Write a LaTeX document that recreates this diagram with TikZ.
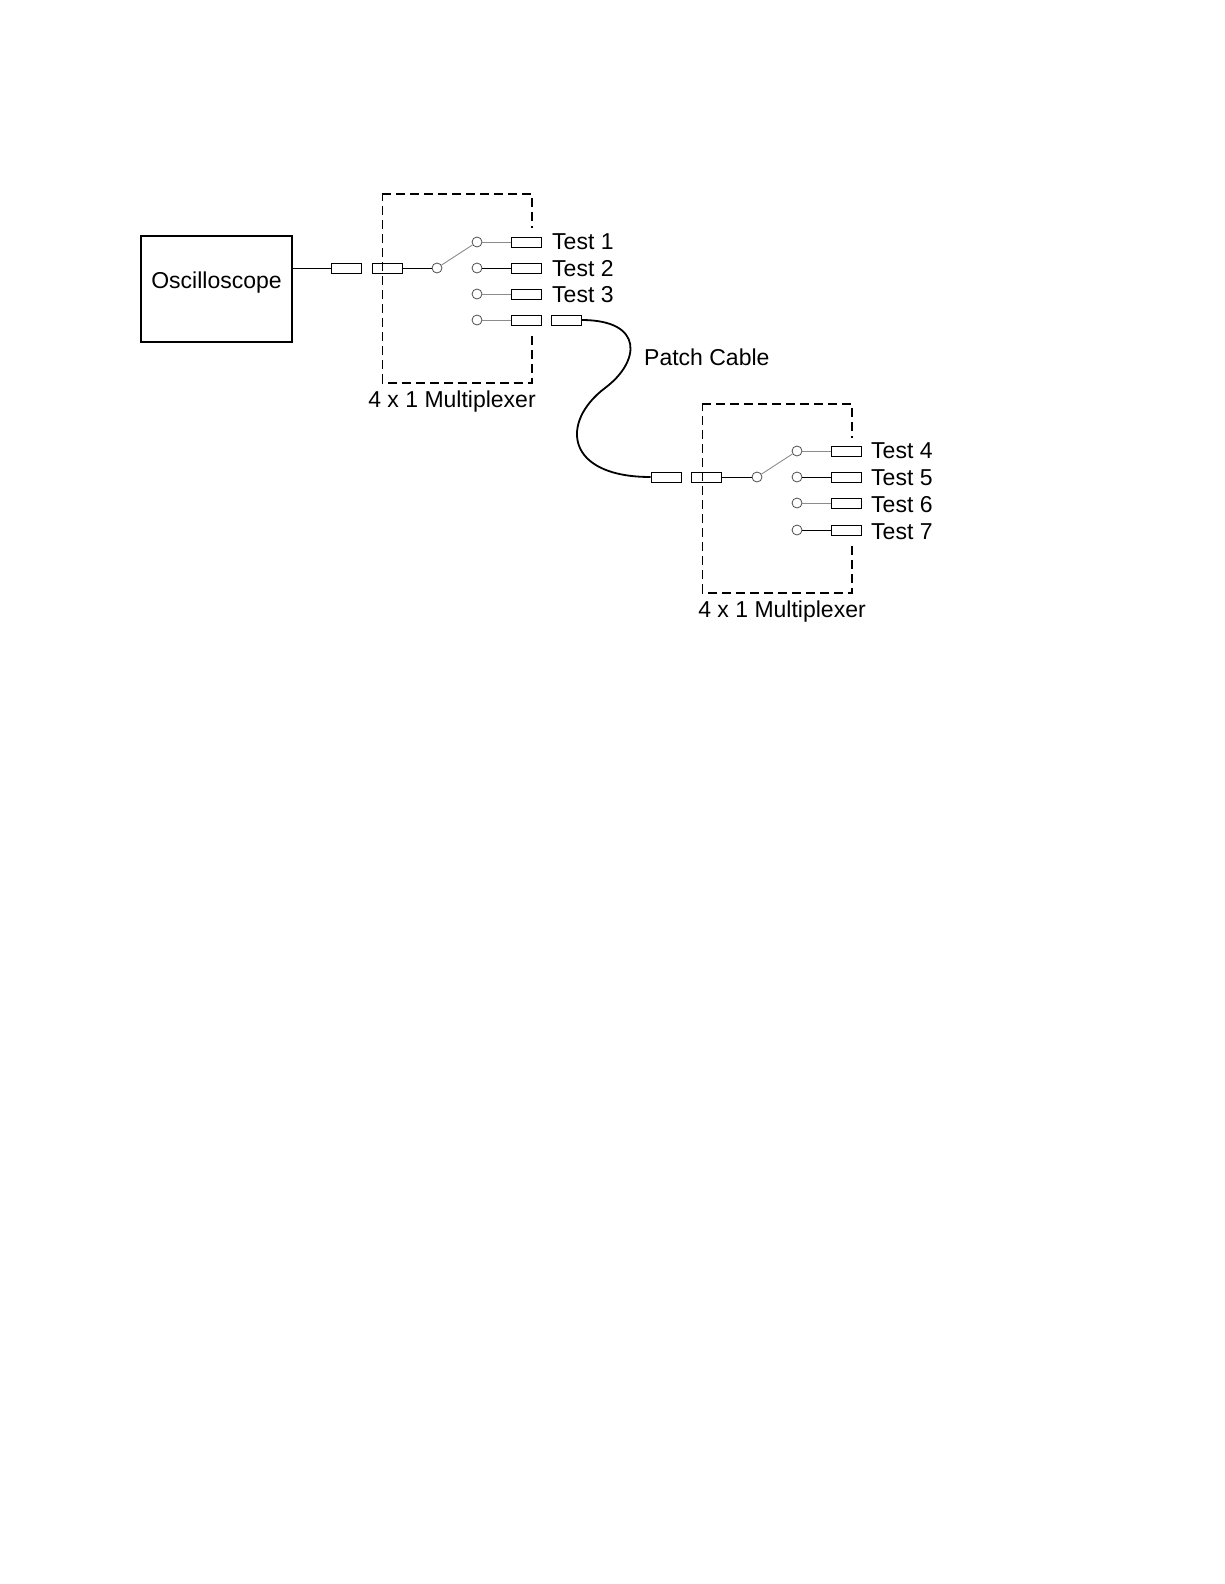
\documentclass[tikz,border=0pt]{standalone}
\usepackage{fontspec}
\setmainfont{Liberation Sans}
\begin{document}
\begin{tikzpicture}[x=1pt,y=-1pt,
  conn/.style={draw,line width=0.8pt,minimum width=30pt,minimum height=10pt,inner sep=0pt},
  sw/.style={circle,draw=black!70,line width=0.8pt,minimum size=10pt,inner sep=0pt},
  wire/.style={line width=0.9pt},
  gwire/.style={line width=0.9pt,black!45},
  lbl/.style={font=\fontsize{23}{26}\selectfont,inner sep=0pt},
  thickdash/.style={line width=1.8pt,dash pattern=on 9pt off 5pt},
  thindash/.style={line width=1pt,dash pattern=on 9pt off 5pt}]
\useasboundingbox (0,0) rectangle (1224,1584);
\node[draw,line width=1.4pt,minimum width=151pt,minimum height=106pt,inner sep=0pt] (osc) at (216.5,289) {};
\node[lbl] (osct) at (216.5,283) {Oscilloscope};
% mux 1 box
\draw[thickdash] (382,194) -- (532,194) -- (532,228);
\draw[thickdash] (532,336) -- (532,383) -- (382,383);
\draw[thindash] (382,383) -- (382,194);
\node[lbl] (m1) at (452,402) {4 x 1 Multiplexer};
\node[conn] (c1) at (346,268) {};
\node[conn] (c2) at (387,268) {};
\node[sw] (s0) at (437,268) {};
\draw[wire] (osc.east|-c1) -- (c1);
\draw[wire] (c2) -- (s0);
\foreach \i/\y in {1/242,2/268,3/294,4/320}{
  \node[sw] (a\i) at (477,\y) {};
  \node[conn] (r\i) at (526,\y) {};
}
\draw[gwire] (s0) -- (a1);
\draw[gwire] (a1) -- (r1);
\draw[wire] (a2) -- (r2);
\draw[gwire] (a3) -- (r3);
\draw[gwire] (a4) -- (r4);
\node[lbl,anchor=west] (t1) at (552,242) {Test 1};
\node[lbl,anchor=west] (t2) at (552,269) {Test 2};
\node[lbl,anchor=west] (t3) at (552,295) {Test 3};
\node[conn] (p1) at (566,320) {};
\node[lbl,anchor=west] (pc) at (644,357) {Patch Cable};
% mux 2
\draw[thickdash] (702,404) -- (852,404) -- (852,438);
\draw[thickdash] (852,546) -- (852,593) -- (702,593);
\draw[thindash] (702,593) -- (702,404);
\node[lbl] (m2) at (782,612) {4 x 1 Multiplexer};
\node[conn] (d1) at (666,477) {};
\node[conn] (d2) at (706,477) {};
\node[sw] (q0) at (757,477) {};
\draw[wire] (d2) -- (q0);
\foreach \i/\y in {1/451,2/477,3/503,4/530}{
  \node[sw] (b\i) at (797,\y) {};
  \node[conn] (u\i) at (846,\y) {};
}
\draw[gwire] (q0) -- (b1);
\draw[gwire] (b1) -- (u1);
\draw[wire] (b2) -- (u2);
\draw[gwire] (b3) -- (u3);
\draw[wire] (b4) -- (u4);
\node[lbl,anchor=west] (t4) at (871,451) {Test 4};
\node[lbl,anchor=west] (t5) at (871,478) {Test 5};
\node[lbl,anchor=west] (t6) at (871,505) {Test 6};
\node[lbl,anchor=west] (t7) at (871,532) {Test 7};
\draw[line width=1.8pt] (p1.east) .. controls (645,320) and (640,362) .. (605,388) .. controls (560,422) and (565,477) .. (d1.west);
\end{tikzpicture}
\end{document}
